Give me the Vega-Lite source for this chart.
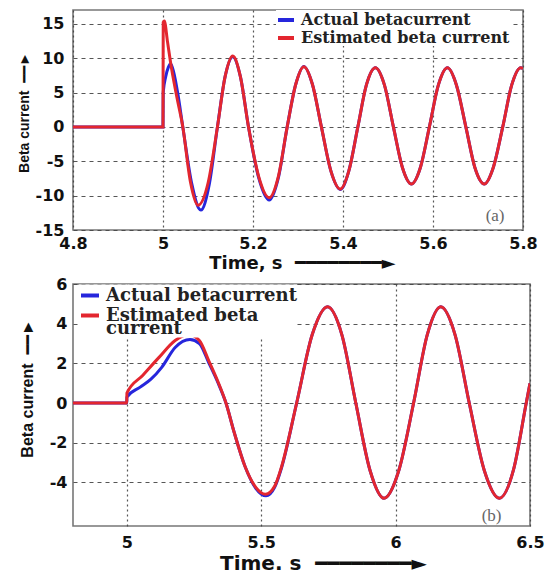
{
  "$schema": "https://vega.github.io/schema/vega-lite/v6.json",
  "background": "white",
  "padding": {"left": 16, "top": 9, "right": 5, "bottom": 0},
  "spacing": 2,
  "config": {
    "view": {"stroke": "#777", "strokeWidth": 1.6},
    "style": {"guide-label": {"lineHeight": 13}},
    "axis": {
      "labelFont": "DejaVu Sans", "labelFontWeight": "bold", "labelFontSize": 16, "labelColor": "#111",
      "ticks": false, "domain": false, "grid": true, "gridColor": "#444", "gridWidth": 1.2, "gridOpacity": 0.9,
      "titleColor": "#111", "labelOverlap": false, "labelFlush": false,
      "labelExpr": "replace(datum.label, '\u2212', '-')"
    },
    "axisX": {"gridDash": [2, 3]},
    "axisY": {"gridDash": [4, 4]}
  },
  "resolve": {
    "scale": {"x": "independent", "y": "independent", "color": "independent"},
    "axis": {"x": "independent", "y": "independent"},
    "legend": {"color": "independent"}
  },
  "datasets": {
    "top": [
      {"series": "Actual betacurrent", "t": 4.8, "v": 0},
      {"series": "Actual betacurrent", "t": 5.0, "v": 0},
      {"series": "Actual betacurrent", "t": 5.0005, "v": 5.0},
      {"series": "Actual betacurrent", "t": 5.006, "v": 7.3},
      {"series": "Actual betacurrent", "t": 5.012, "v": 8.7},
      {"series": "Actual betacurrent", "t": 5.017, "v": 9.2},
      {"series": "Actual betacurrent", "t": 5.024, "v": 7.9},
      {"series": "Actual betacurrent", "t": 5.033, "v": 4.8},
      {"series": "Actual betacurrent", "t": 5.044, "v": 0},
      {"series": "Actual betacurrent", "t": 5.064, "v": -8.3},
      {"series": "Actual betacurrent", "t": 5.084, "v": -12.1},
      {"series": "Actual betacurrent", "t": 5.103, "v": -8.3},
      {"series": "Actual betacurrent", "t": 5.121, "v": 0},
      {"series": "Actual betacurrent", "t": 5.138, "v": 7.3},
      {"series": "Actual betacurrent", "t": 5.155, "v": 10.2},
      {"series": "Actual betacurrent", "t": 5.172, "v": 7.3},
      {"series": "Actual betacurrent", "t": 5.19, "v": 0},
      {"series": "Actual betacurrent", "t": 5.213, "v": -7.5},
      {"series": "Actual betacurrent", "t": 5.236, "v": -10.65},
      {"series": "Actual betacurrent", "t": 5.256, "v": -7.5},
      {"series": "Actual betacurrent", "t": 5.276, "v": 0},
      {"series": "Actual betacurrent", "t": 5.295, "v": 6.2},
      {"series": "Actual betacurrent", "t": 5.313, "v": 8.8},
      {"series": "Actual betacurrent", "t": 5.332, "v": 6.2},
      {"series": "Actual betacurrent", "t": 5.352, "v": 0},
      {"series": "Actual betacurrent", "t": 5.373, "v": -6.4},
      {"series": "Actual betacurrent", "t": 5.394, "v": -9.1},
      {"series": "Actual betacurrent", "t": 5.413, "v": -6.4},
      {"series": "Actual betacurrent", "t": 5.433, "v": 0},
      {"series": "Actual betacurrent", "t": 5.452, "v": 6.1},
      {"series": "Actual betacurrent", "t": 5.472, "v": 8.6},
      {"series": "Actual betacurrent", "t": 5.492, "v": 6.1},
      {"series": "Actual betacurrent", "t": 5.512, "v": 0},
      {"series": "Actual betacurrent", "t": 5.532, "v": -5.9},
      {"series": "Actual betacurrent", "t": 5.552, "v": -8.3},
      {"series": "Actual betacurrent", "t": 5.572, "v": -5.9},
      {"series": "Actual betacurrent", "t": 5.592, "v": 0},
      {"series": "Actual betacurrent", "t": 5.612, "v": 6.1},
      {"series": "Actual betacurrent", "t": 5.632, "v": 8.6},
      {"series": "Actual betacurrent", "t": 5.652, "v": 6.1},
      {"series": "Actual betacurrent", "t": 5.673, "v": 0},
      {"series": "Actual betacurrent", "t": 5.693, "v": -5.9},
      {"series": "Actual betacurrent", "t": 5.714, "v": -8.3},
      {"series": "Actual betacurrent", "t": 5.734, "v": -5.9},
      {"series": "Actual betacurrent", "t": 5.755, "v": 0},
      {"series": "Actual betacurrent", "t": 5.775, "v": 6.1},
      {"series": "Actual betacurrent", "t": 5.795, "v": 8.6},
      {"series": "Actual betacurrent", "t": 5.8, "v": 8.5},
      {"series": "Estimated beta current", "t": 4.8, "v": 0},
      {"series": "Estimated beta current", "t": 5.0, "v": 0},
      {"series": "Estimated beta current", "t": 5.0005, "v": 15.2},
      {"series": "Estimated beta current", "t": 5.003, "v": 15.4},
      {"series": "Estimated beta current", "t": 5.01, "v": 12.4},
      {"series": "Estimated beta current", "t": 5.017, "v": 9.3},
      {"series": "Estimated beta current", "t": 5.03, "v": 4.6},
      {"series": "Estimated beta current", "t": 5.044, "v": 0},
      {"series": "Estimated beta current", "t": 5.061, "v": -8.0},
      {"series": "Estimated beta current", "t": 5.078, "v": -11.4},
      {"series": "Estimated beta current", "t": 5.1, "v": -8.2},
      {"series": "Estimated beta current", "t": 5.121, "v": 0},
      {"series": "Estimated beta current", "t": 5.138, "v": 7.3},
      {"series": "Estimated beta current", "t": 5.155, "v": 10.3},
      {"series": "Estimated beta current", "t": 5.172, "v": 7.3},
      {"series": "Estimated beta current", "t": 5.19, "v": 0},
      {"series": "Estimated beta current", "t": 5.213, "v": -7.3},
      {"series": "Estimated beta current", "t": 5.236, "v": -10.3},
      {"series": "Estimated beta current", "t": 5.256, "v": -7.3},
      {"series": "Estimated beta current", "t": 5.276, "v": 0},
      {"series": "Estimated beta current", "t": 5.295, "v": 6.2},
      {"series": "Estimated beta current", "t": 5.313, "v": 8.75},
      {"series": "Estimated beta current", "t": 5.332, "v": 6.2},
      {"series": "Estimated beta current", "t": 5.352, "v": 0},
      {"series": "Estimated beta current", "t": 5.373, "v": -6.4},
      {"series": "Estimated beta current", "t": 5.394, "v": -9.05},
      {"series": "Estimated beta current", "t": 5.413, "v": -6.4},
      {"series": "Estimated beta current", "t": 5.433, "v": 0},
      {"series": "Estimated beta current", "t": 5.452, "v": 6.1},
      {"series": "Estimated beta current", "t": 5.472, "v": 8.6},
      {"series": "Estimated beta current", "t": 5.492, "v": 6.1},
      {"series": "Estimated beta current", "t": 5.512, "v": 0},
      {"series": "Estimated beta current", "t": 5.532, "v": -5.9},
      {"series": "Estimated beta current", "t": 5.552, "v": -8.3},
      {"series": "Estimated beta current", "t": 5.572, "v": -5.9},
      {"series": "Estimated beta current", "t": 5.592, "v": 0},
      {"series": "Estimated beta current", "t": 5.612, "v": 6.1},
      {"series": "Estimated beta current", "t": 5.632, "v": 8.6},
      {"series": "Estimated beta current", "t": 5.652, "v": 6.1},
      {"series": "Estimated beta current", "t": 5.673, "v": 0},
      {"series": "Estimated beta current", "t": 5.693, "v": -5.9},
      {"series": "Estimated beta current", "t": 5.714, "v": -8.3},
      {"series": "Estimated beta current", "t": 5.734, "v": -5.9},
      {"series": "Estimated beta current", "t": 5.755, "v": 0},
      {"series": "Estimated beta current", "t": 5.775, "v": 6.1},
      {"series": "Estimated beta current", "t": 5.795, "v": 8.6},
      {"series": "Estimated beta current", "t": 5.8, "v": 8.5}
    ],
    "bottom": [
      {"series": "Actual betacurrent", "t": 4.8, "v": 0},
      {"series": "Actual betacurrent", "t": 5.0, "v": 0},
      {"series": "Actual betacurrent", "t": 5.0005, "v": 0.29},
      {"series": "Actual betacurrent", "t": 5.05, "v": 0.8},
      {"series": "Actual betacurrent", "t": 5.09, "v": 1.2},
      {"series": "Actual betacurrent", "t": 5.13, "v": 1.8},
      {"series": "Actual betacurrent", "t": 5.18, "v": 2.8},
      {"series": "Actual betacurrent", "t": 5.235, "v": 3.2},
      {"series": "Actual betacurrent", "t": 5.27, "v": 3.0},
      {"series": "Actual betacurrent", "t": 5.306, "v": 2.0},
      {"series": "Actual betacurrent", "t": 5.34, "v": 1.0},
      {"series": "Actual betacurrent", "t": 5.369, "v": 0},
      {"series": "Actual betacurrent", "t": 5.4, "v": -1.5},
      {"series": "Actual betacurrent", "t": 5.44, "v": -3.2},
      {"series": "Actual betacurrent", "t": 5.48, "v": -4.3},
      {"series": "Actual betacurrent", "t": 5.518, "v": -4.68},
      {"series": "Actual betacurrent", "t": 5.55, "v": -4.25},
      {"series": "Actual betacurrent", "t": 5.575, "v": -3.3},
      {"series": "Actual betacurrent", "t": 5.632, "v": 0},
      {"series": "Actual betacurrent", "t": 5.69, "v": 3.45},
      {"series": "Actual betacurrent", "t": 5.747, "v": 4.85},
      {"series": "Actual betacurrent", "t": 5.8, "v": 3.45},
      {"series": "Actual betacurrent", "t": 5.852, "v": 0},
      {"series": "Actual betacurrent", "t": 5.905, "v": -3.4},
      {"series": "Actual betacurrent", "t": 5.957, "v": -4.8},
      {"series": "Actual betacurrent", "t": 6.012, "v": -3.4},
      {"series": "Actual betacurrent", "t": 6.067, "v": 0},
      {"series": "Actual betacurrent", "t": 6.118, "v": 3.45},
      {"series": "Actual betacurrent", "t": 6.168, "v": 4.85},
      {"series": "Actual betacurrent", "t": 6.221, "v": 3.45},
      {"series": "Actual betacurrent", "t": 6.274, "v": 0},
      {"series": "Actual betacurrent", "t": 6.33, "v": -3.4},
      {"series": "Actual betacurrent", "t": 6.386, "v": -4.8},
      {"series": "Actual betacurrent", "t": 6.438, "v": -3.4},
      {"series": "Actual betacurrent", "t": 6.486, "v": 0},
      {"series": "Actual betacurrent", "t": 6.5, "v": 1.0},
      {"series": "Estimated beta current", "t": 4.8, "v": 0},
      {"series": "Estimated beta current", "t": 5.0, "v": 0},
      {"series": "Estimated beta current", "t": 5.0005, "v": 0.5},
      {"series": "Estimated beta current", "t": 5.06, "v": 1.4},
      {"series": "Estimated beta current", "t": 5.12, "v": 2.3},
      {"series": "Estimated beta current", "t": 5.18, "v": 3.15},
      {"series": "Estimated beta current", "t": 5.229, "v": 3.45},
      {"series": "Estimated beta current", "t": 5.27, "v": 3.15},
      {"series": "Estimated beta current", "t": 5.306, "v": 2.1},
      {"series": "Estimated beta current", "t": 5.34, "v": 1.05},
      {"series": "Estimated beta current", "t": 5.369, "v": 0},
      {"series": "Estimated beta current", "t": 5.4, "v": -1.5},
      {"series": "Estimated beta current", "t": 5.44, "v": -3.2},
      {"series": "Estimated beta current", "t": 5.48, "v": -4.25},
      {"series": "Estimated beta current", "t": 5.516, "v": -4.6},
      {"series": "Estimated beta current", "t": 5.55, "v": -4.2},
      {"series": "Estimated beta current", "t": 5.575, "v": -3.25},
      {"series": "Estimated beta current", "t": 5.632, "v": 0},
      {"series": "Estimated beta current", "t": 5.69, "v": 3.45},
      {"series": "Estimated beta current", "t": 5.747, "v": 4.85},
      {"series": "Estimated beta current", "t": 5.8, "v": 3.45},
      {"series": "Estimated beta current", "t": 5.852, "v": 0},
      {"series": "Estimated beta current", "t": 5.905, "v": -3.4},
      {"series": "Estimated beta current", "t": 5.957, "v": -4.8},
      {"series": "Estimated beta current", "t": 6.012, "v": -3.4},
      {"series": "Estimated beta current", "t": 6.067, "v": 0},
      {"series": "Estimated beta current", "t": 6.118, "v": 3.45},
      {"series": "Estimated beta current", "t": 6.168, "v": 4.85},
      {"series": "Estimated beta current", "t": 6.221, "v": 3.45},
      {"series": "Estimated beta current", "t": 6.274, "v": 0},
      {"series": "Estimated beta current", "t": 6.33, "v": -3.4},
      {"series": "Estimated beta current", "t": 6.386, "v": -4.8},
      {"series": "Estimated beta current", "t": 6.438, "v": -3.4},
      {"series": "Estimated beta current", "t": 6.486, "v": 0},
      {"series": "Estimated beta current", "t": 6.5, "v": 1.0}
    ]
  },
  "vconcat": [
    {
      "width": 450,
      "height": 220,
      "encoding": {
        "x": {
          "field": "t", "type": "quantitative",
          "scale": {"domain": [4.8, 5.8], "nice": false, "zero": false},
          "axis": {
            "values": [4.8, 5, 5.2, 5.4, 5.6, 5.8], "format": "~g", "labelPadding": 5,
            "title": "Time, s \u00a0\u2501\u2501\u2501\u2501\u2501\u2501\u2501\u2501\u25ba",
            "titleFont": "DejaVu Sans", "titleFontSize": 18, "titleFontWeight": "bold",
            "titlePadding": 3, "titleX": 229
          }
        },
        "y": {
          "field": "v", "type": "quantitative",
          "scale": {"domain": [-15, 17], "nice": false, "zero": false},
          "axis": {
            "values": [-15, -10, -5, 0, 5, 10, 15], "labelPadding": 9,
            "title": "Beta current \u00a0\u2501\u2501\u25ba",
            "titleFont": "Liberation Sans, DejaVu Sans", "titleFontSize": 14, "titleFontWeight": "bold",
            "titleX": -49, "titleY": 102, "titleBaseline": "middle"
          }
        }
      },
      "layer": [
        {
          "data": {"name": "top"},
          "mark": {"type": "line", "interpolate": "monotone", "strokeWidth": 3, "clip": true},
          "encoding": {
            "color": {
              "field": "series", "type": "nominal",
              "scale": {"domain": ["Actual betacurrent", "Estimated beta current"], "range": ["#2626dc", "#e3262f"]},
              "legend": {
                "orient": "none", "legendX": 203, "legendY": 0, "padding": 0, "fillColor": "white", "title": null,
                "labelFont": "DejaVu Serif", "labelFontWeight": "bold", "labelFontSize": 16, "labelColor": "#222",
                "symbolType": "stroke", "symbolSize": 256, "symbolStrokeWidth": 4, "labelOffset": 5,
                "rowPadding": -6, "labelLimit": 400
              }
            }
          }
        },
        {
          "data": {"values": [{"t": 5.738, "v": -13.0, "label": "(a)"}]},
          "mark": {"type": "text", "font": "Liberation Serif", "fontSize": 17, "color": "#666"},
          "encoding": {"text": {"field": "label"}}
        }
      ]
    },
    {
      "width": 457,
      "height": 242,
      "encoding": {
        "x": {
          "field": "t", "type": "quantitative",
          "scale": {"domain": [4.8, 6.5], "nice": false, "zero": false},
          "axis": {
            "values": [5, 5.5, 6, 6.5], "format": "~g", "labelPadding": 8,
            "title": "Time. s \u00a0\u2501\u2501\u2501\u2501\u2501\u2501\u2501\u2501\u25ba",
            "titleFont": "DejaVu Sans", "titleFontSize": 20, "titleFontWeight": "bold",
            "titlePadding": 3, "titleX": 250
          }
        },
        "y": {
          "field": "v", "type": "quantitative",
          "scale": {"domain": [-6.2, 6], "nice": false, "zero": false},
          "axis": {
            "values": [-4, -2, 0, 2, 4, 6], "labelPadding": 6,
            "title": "Beta current \u00a0\u2501\u2501\u25ba",
            "titleFont": "Liberation Sans, DejaVu Sans", "titleFontSize": 16, "titleFontWeight": "bold",
            "titleX": -46, "titleY": 104, "titleBaseline": "middle"
          }
        }
      },
      "layer": [
        {
          "data": {"name": "bottom"},
          "mark": {"type": "line", "interpolate": "monotone", "strokeWidth": 3, "clip": true},
          "encoding": {
            "color": {
              "field": "series", "type": "nominal",
              "scale": {"domain": ["Actual betacurrent", "Estimated beta current"], "range": ["#2626dc", "#e3262f"]},
              "legend": {
                "orient": "none", "legendX": 6, "legendY": 0.5, "padding": 0, "fillColor": "white", "title": null,
                "labelFont": "DejaVu Serif", "labelFontWeight": "bold", "labelFontSize": 18, "labelColor": "#222",
                "symbolType": "stroke", "symbolSize": 324, "symbolStrokeWidth": 4, "labelOffset": 5,
                "rowPadding": 0, "labelLimit": 400,
                "labelExpr": "datum.label == 'Estimated beta current' ? ['Estimated beta', 'current'] : datum.label"
              }
            }
          }
        },
        {
          "data": {"values": [{"t": 6.357, "v": -5.69, "label": "(b)"}]},
          "mark": {"type": "text", "font": "Liberation Serif", "fontSize": 17, "color": "#666"},
          "encoding": {"text": {"field": "label"}}
        }
      ]
    }
  ]
}
